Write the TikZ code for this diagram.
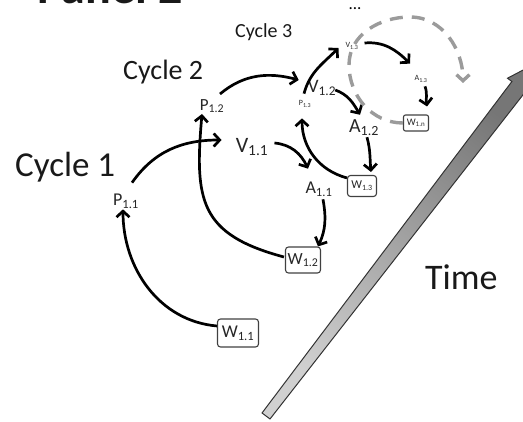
\documentclass[tikz,border=0pt]{standalone}
\usepackage{fontspec}
\setmainfont{Carlito}
\usetikzlibrary{arrows.meta, positioning}
\definecolor{cycgray}{RGB}{155,155,155}
\definecolor{timedark}{RGB}{118,118,118}
\definecolor{timelight}{RGB}{208,208,208}
\newcommand{\fsz}[1]{\fontsize{#1}{#1}\selectfont}

\begin{document}
\begin{tikzpicture}[x=1pt, y=1pt,
    lbl/.style={inner sep=1pt, text=black!85},
    wbox/.style={draw=black!75, line width=1.1pt, rounded corners=3pt, inner sep=1pt, text=black!85},
    flow/.style={line width=2.7pt, -{Straight Barb[length=6pt, width=13pt]}},
    dashloop/.style={draw=cycgray, line width=3.4pt, dash pattern=on 13pt off 9pt,
        -{Straight Barb[length=6pt, width=13pt]}},
    cyc/.style={inner sep=0pt, anchor=base west, text=black!90}
]
\useasboundingbox (0,0) rectangle (523,-422);

% === Titles ===
\node[cyc, font=\fsz{48}\bfseries] (title) at (37,-4) {Panel 2};
\node[cyc, font=\fsz{35}] (c1) at (15,-177) {Cycle 1};
\node[cyc, font=\fsz{28}] (c2) at (123,-80) {Cycle 2};
\node[cyc, font=\fsz{20}] (c3) at (235,-38) {Cycle 3};
\node[inner sep=0pt, anchor=base, font=\fsz{17}] (dots) at (355,-10) {...};

% === Time arrow ===
\shade[draw=black!80, line width=1pt, top color=timedark, bottom color=timelight, shading angle=-37]
    (262,-413) -- (511.9,-81.5) -- (507.5,-78.2) -- (536.8,-62.9)
    -- (529.7,-95.2) -- (525.3,-91.9) -- (270,-419) -- cycle;
\node[cyc, font=\fsz{36}] (time) at (425,-290) {Time};

% === Cycle 1 ===
\node[lbl, font=\fsz{18}] (P11) at (126,-201) {P\textsubscript{1.1}};
\node[wbox, font=\fsz{18}, minimum width=41pt, minimum height=28pt] (W11) at (238,-333) {W\textsubscript{1.1}};
\node[lbl, font=\fsz{22}] (V11) at (252,-147) {V\textsubscript{1.1}};
\node[lbl, font=\fsz{18}] (A11) at (319,-189) {A\textsubscript{1.1}};
\node[wbox, font=\fsz{17}, minimum width=35pt, minimum height=26pt] (W12) at (303,-260) {W\textsubscript{1.2}};

% === Cycle 2 ===
\node[lbl, font=\fsz{17}] (P12) at (212,-106) {P\textsubscript{1.2}};
\node[lbl, font=\fsz{19}] (V12) at (322,-88) {V\textsubscript{1.2}};
\node[lbl, font=\fsz{20}] (A12) at (364,-128) {A\textsubscript{1.2}};
\node[wbox, font=\fsz{12}, minimum width=29pt, minimum height=21pt] (W13) at (362,-186) {W\textsubscript{1.3}};

% === Cycle 3 ===
\node[lbl, font=\fsz{8}] (P13) at (305,-104) {P\textsubscript{1.3}};
\node[lbl, font=\fsz{8}] (V13) at (352,-46) {V\textsubscript{1.3}};
\node[lbl, font=\fsz{8}] (A13) at (421,-79) {A\textsubscript{1.3}};
\node[wbox, font=\fsz{10}, minimum width=25pt, minimum height=16pt, rounded corners=2pt] (W1n) at (416,-123) {W\textsubscript{1.n}};

% === Connectors ===
\draw[flow] ([yshift=7]W11.west) to[out=175, in=-90] ([xshift=-3]P11.south);
\draw[flow] ([shift={(6,10)}]P11.north) to[out=55, in=180] ([shift={(-13,7)}]V11.west);
\draw[flow] ([shift={(-1,3)}]W12.west) to[out=165, in=-95, looseness=1.35] ([xshift=-10]P12.south);
\draw[flow] ([shift={(8,4)}]P12.north) to[out=40, in=165] ([shift={(-8,8)}]V12.west);
\draw[flow] ([shift={(-1,6)}]P13.north) to[out=75, in=225] ([shift={(-6,-2)}]V13.west);
\draw[flow] ([shift={(5,4)}]V11.east) to[out=-5, in=115] ([shift={(-11,12)}]A11.north);
\draw[flow] ([shift={(4,-2)}]A11.south) to[out=-80, in=65] ([xshift=15]W12.north);
\draw[flow] ([yshift=-3]W13.north west) to[out=165, in=-90] ([shift={(-3,-10)}]P13.south);
\draw[flow] ([shift={(-2,-2)}]V12.east) to[out=-20, in=120] ([shift={(-4,4)}]A12.north);
\draw[flow] ([shift={(3,0)}]A12.south) to[out=-75, in=95] ([shift={(9,3)}]W13.north);
\draw[flow] ([shift={(5,3)}]V13.east) to[out=5, in=135] ([shift={(-11,11)}]A13.north);
\draw[flow] ([shift={(4,-3)}]A13.south) to[out=-70, in=100] ([shift={(-2,8)}]W1n.north east);

% === Next cycles ===
\coordinate (loopL) at (349,-65);
\coordinate (loopT) at (410,-17);
\coordinate (loopE) at (463,-83);
\draw[dashloop] (W1n.west) to[out=180, in=-90] (loopL) to[out=90, in=180] (loopT) to[out=0, in=90] (loopE);

\end{tikzpicture}
\end{document}
